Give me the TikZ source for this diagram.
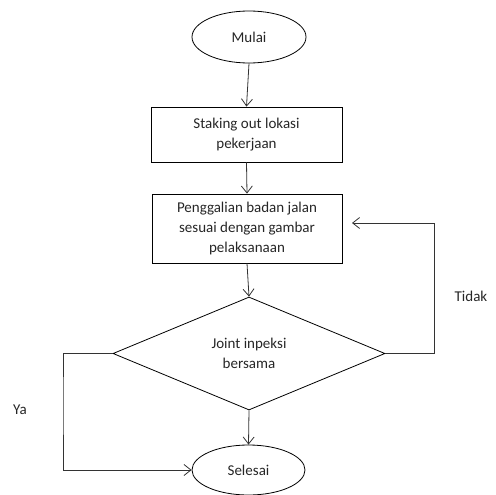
\documentclass[tikz,border=0pt]{standalone}
\usepackage{fontspec}
\setmainfont{Carlito}
\usetikzlibrary{shapes.geometric,arrows.meta}
\begin{document}
\begin{tikzpicture}[x=1pt,y=-1pt,
  line width=0.8pt,
  every node/.style={font=\fontsize{15}{20}\selectfont, align=center, inner sep=0pt, text=black!85},
  term/.style={draw, ellipse, minimum width=114pt, minimum height=52pt},
  proc/.style={draw, rectangle},
  decide/.style={draw, diamond, aspect=2.4},
  arr/.style={draw=black!80, -{Straight Barb[length=7pt,width=11pt]}},
  link/.style={draw=black!80}]
\useasboundingbox (0,0) rectangle (495,495);

% nodes of the flow
\node[term] (mulai) at (249,37) {Mulai};
\node[proc, minimum width=191pt, minimum height=55pt] (s1) at (246.5,134.5) {Staking out lokasi\\pekerjaan};
\node[proc, minimum width=190pt, minimum height=69pt] (s2) at (247,228.5) {Penggalian badan jalan\\sesuai dengan gambar\\pelaksanaan};
\node[decide, minimum width=272pt, minimum height=113pt] (d) at (249,353.5) {Joint inpeksi\\bersama};
\node[term, minimum width=113pt, minimum height=50pt] (sel) at (248.5,470) {Selesai};

% main vertical flow
\draw[arr] (mulai.south) -- (s1.north);
\draw[arr] (s1.south) -- (s2.north);
\draw[arr] (s2.south) -- (d.north);
\draw[arr] (d.south) -- (sel.north);

% "Tidak" loop back to the excavation step
\coordinate (rc) at (434,223);
\coordinate (tipR) at (352,223);
\draw[arr] (d.east) -| (rc) -- (tipR);
\node at (471,296) {Tidak};

% "Ya" branch to the end
\coordinate (lc) at (63,400);
\draw[arr] (d.west) -| (lc) |- (sel.west);
\node at (20,410) {Ya};
\end{tikzpicture}
\end{document}
